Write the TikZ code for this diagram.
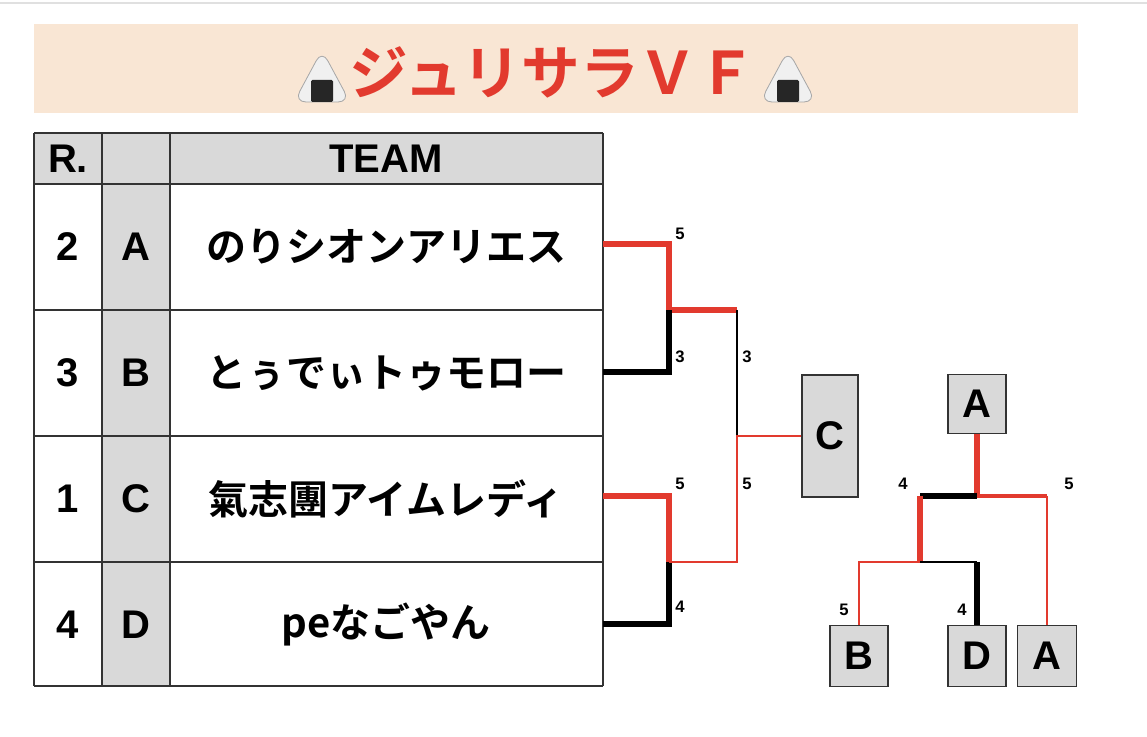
\documentclass[tikz,border=0pt]{standalone}
\usepackage{fontspec}
\setmainfont{Liberation Sans}
\newfontfamily\jp{Noto Sans CJK JP}[BoldFont={* Bold}]
\begin{document}
\begin{tikzpicture}[x=0.75pt,y=-0.75pt,
  cell/.style={draw=black!80,line width=0.9pt},
  big/.style={font=\fontsize{30}{32}\selectfont\bfseries},
  team/.style={font=\jp\bfseries\fontsize{30}{32}\selectfont},
  sc/.style={font=\fontsize{12.5}{13}\selectfont\bfseries,anchor=west,inner sep=0pt},
  thk/.style={line width=3.8pt},
  thn/.style={line width=1.8pt},
  box/.style={draw=black!80,line width=1pt,fill=black!15,inner sep=0pt,font=\fontsize{30}{32}\selectfont\bfseries}]
\definecolor{rd}{RGB}{226,58,46}
\useasboundingbox (0,0) rectangle (1147,737);
\fill[white] (0,0) rectangle (1147,737);
\draw[black!12,line width=1pt] (0,3) -- (1147,3);
% title
\fill[fill={rgb,255:red,249;green,230;blue,212}] (34,24) rectangle (1078,113);
\node[text=rd,font=\jp\bfseries\fontsize{44}{46}\selectfont] (title) at (553,72) {ジュリサラＶＦ};
\foreach \cx/\nm in {322/og1,788/og2}{
  \coordinate (\nm) at (\cx,76);
  \filldraw[fill=black!6,draw=black!35,line width=0.6pt,rounded corners=9pt]
    (\cx-28,102) -- (\cx,50) -- (\cx+28,102) -- cycle;
  \fill[black!85,rounded corners=1pt] (\cx-11,80) rectangle (\cx+11,102);
}
% table
\fill[black!15] (34,133) rectangle (603,184);
\fill[black!15] (102,184) rectangle (170,686);
\foreach \y in {133,184,310,436,562,686}{\draw[cell] (34,\y) -- (603,\y);}
\foreach \x in {34,102,170,603}{\draw[cell] (\x,133) -- (\x,686);}
\node[big] (hR) at (68,159) {R.};
\node[big] (hT) at (386,159) {TEAM};
\foreach \y/\r/\l/\t/\n in {247/2/A/のりシオンアリエス/a,373/3/B/とぅでぃトゥモロー/b,499/1/C/氣志團アイムレディ/c,625/4/D/peなごやん/d}{
  \node[big] (r\n) at (68,\y) {\r};
  \node[big] (l\n) at (136,\y) {\l};
  \node[team] (t\n) at (386,\y) {\t};
}
% left bracket
\draw[rd,thk] (603,244) -- (669,244) -- (669,310) -- (737,310);
\draw[black,thk] (603,372) -- (669,372) -- (669,310);
\draw[rd,thk] (603,496) -- (669,496) -- (669,562);
\draw[black,thk] (603,624) -- (669,624) -- (669,562);
\draw[black,thn] (737,310) -- (737,436);
\node[box,minimum width=56*0.75pt,minimum height=122*0.75pt] (C) at (830,436) {C};
\draw[rd,thn] (669,562) -- (737,562) -- (737,436) -- (C.west);
\node[sc] (s1) at (675,234) {5};
\node[sc] (s2) at (675,357) {3};
\node[sc] (s3) at (742,357) {3};
\node[sc] (s4) at (675,484) {5};
\node[sc] (s5) at (742,484) {5};
\node[sc] (s6) at (675,607) {4};
% right bracket
\node[box,minimum width=58*0.75pt,minimum height=59*0.75pt] (A1) at (977,404) {A};
\node[box,minimum width=58*0.75pt,minimum height=61*0.75pt] (B2) at (859,656) {B};
\node[box,minimum width=58*0.75pt,minimum height=61*0.75pt] (D2) at (977,656) {D};
\node[box,minimum width=59*0.75pt,minimum height=61*0.75pt] (A2) at (1047,656) {A};
\coordinate (j1) at (A1.south |- 0,496);
\coordinate (j2) at (920,496);
\coordinate (j3) at (920,562);
\coordinate (j4) at (A2.north |- 0,496);
\draw[rd,thk] (A1.south) -- (j1);
\draw[black,thk] (j2) -- (j1);
\draw[rd,line width=2.8pt] (j1) -- (j4);
\draw[rd,thn] (j4) -- (A2.north);
\draw[rd,thk] (j2) -- (j3);
\draw[rd,thn] (j3) -- (B2.north |- 0,562) -- (B2.north);
\draw[black,thn] (j3) -- (D2.north |- 0,562);
\draw[black,thk] (D2.north |- 0,562) -- (D2.north);
\node[sc] (s7) at (898,484) {4};
\node[sc] (s8) at (1064,484) {5};
\node[sc] (s9) at (839,610) {5};
\node[sc] (s10) at (957,610) {4};
\end{tikzpicture}
\end{document}
